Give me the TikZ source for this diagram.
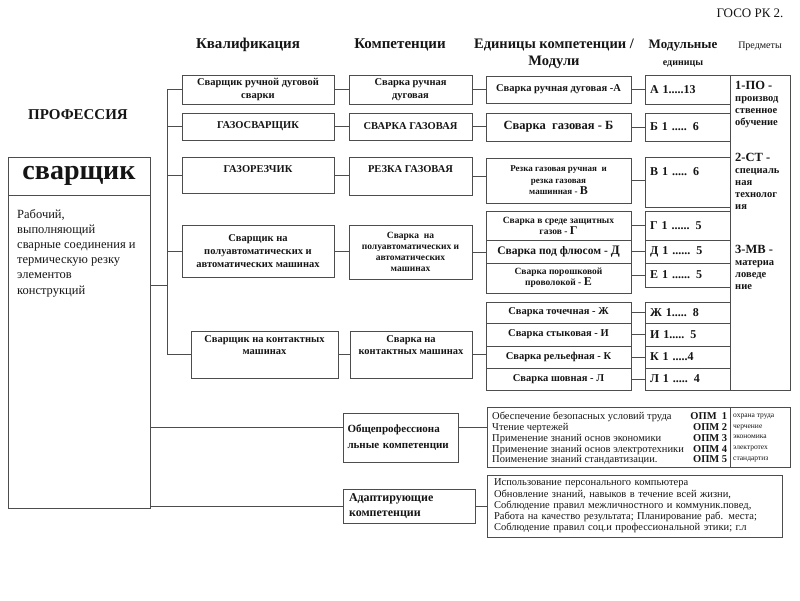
\documentclass[tikz,border=0pt]{standalone}
\usepackage{fontspec}
\setmainfont{Liberation Serif}
\usepackage{xcolor}
\usepackage{tikz}
\usetikzlibrary{positioning,calc}
\definecolor{ink}{HTML}{151515}
\definecolor{rulegrey}{HTML}{4D4D4D}
\newcommand{\fsz}[2]{\fontsize{#1pt}{#2pt}\selectfont}
\tikzset{
  box/.style 2 args={rectangle, draw=rulegrey, line width=0.8pt, align=center,
              inner sep=2pt, text=ink, minimum width=#1pt, minimum height=#2pt,
              font=\bfseries\fsz{10.5}{12.5}},
  unitbox/.style={box={85}{#1}, text width=75pt, align=left, inner xsep=5pt,
              font=\bfseries\fsz{12}{14}},
  hdr/.style={font=\bfseries\fsz{15}{17}, text=ink, align=center, inner sep=0pt},
  note/.style={font=\fsz{12.5}{15.2}, text=ink, align=left, inner sep=0pt},
  subj/.style={font=\bfseries\fsz{10.5}{12}, text=ink, align=left, inner sep=0pt},
  wire/.style={draw=rulegrey, line width=0.8pt},
}

\begin{document}
\begin{tikzpicture}[x=1pt,y=-1pt]
  \useasboundingbox (0,0) rectangle (800,600);

  % page mark and column heads
  \node[font=\fsz{13}{15}, text=ink] (goso) at (750,13) {ГОСО РК 2.};
  \node[hdr] (hqual) at (248,45) {Квалификация};
  \node[hdr] (hcomp) at (400,45) {Компетенции};
  \node[hdr, font=\bfseries\fsz{14.5}{17}] (hunit) at (554,53.5) {Единицы компетенции /\\Модули};
  \node[hdr, font=\bfseries\fsz{13}{17}] (hmod) at (683,54) {Модульные\\{\fsz{10}{10}единицы}};
  \node[font=\fsz{10}{12}, text=ink] (hsubj) at (760,46) {Предметы};

  % profession
  \node[hdr] (hprof) at (78,115) {ПРОФЕССИЯ};
  \node[box={142}{38}, font=\bfseries\fsz{28}{30}] (pname) at (79,176) {сварщик};
  \node[box={142}{313}] (pdesc) at (79,351.5) {};
  \node[note, anchor=north west] (pnote) at (17,209)
    {Рабочий,\\выполняющий\\сварные соединения и\\термическую резку\\элементов\\конструкций};

  % qualifications
  \node[box={152}{29}] (q1) at (258,89.5) {Сварщик ручной дуговой\\сварки};
  \node[box={152}{27}] (q2) at (258,126.5) {ГАЗОСВАРЩИК};
  \node[box={152}{36}, text height=13pt, text depth=19pt] (q3) at (258,175) {ГАЗОРЕЗЧИК};
  \node[box={152}{52}, font=\bfseries\fsz{10.5}{13}] (q4) at (258,251)
    {Сварщик на\\полуавтоматических и\\автоматических машинах};
  \node[box={147}{47}] (q5) at (264.5,354.5) {Сварщик на контактных\\машинах\\[6pt]};

  % competences
  \node[box={123}{29}] (c1) at (410.5,89.5) {Сварка ручная\\дуговая};
  \node[box={123}{27}] (c2) at (410.5,126.5) {СВАРКА ГАЗОВАЯ};
  \node[box={123}{38}, text height=13pt, text depth=21pt] (c3) at (410.5,176) {РЕЗКА ГАЗОВАЯ};
  \node[box={123}{54}, font=\bfseries\fsz{9.5}{11}] (c4) at (410.5,252)
    {Сварка\ \ на\\полуавтоматических и\\автоматических\\машинах};
  \node[box={122}{47}] (c5) at (411,354.5) {Сварка на\\контактных машинах\\[6pt]};

  % units of competence / modules
  \node[box={145}{27}] (m1) at (558.5,89.5) {Сварка ручная дуговая -А};
  \node[box={145}{28}, font=\bfseries\fsz{12.5}{14}] (m2) at (558.5,127) {Сварка\ \ газовая - Б};
  \node[box={145}{45}, font=\bfseries\fsz{9}{11.5}] (m3) at (558.5,180.5)
    {Резка газовая ручная\ \ и\\резка газовая\\машинная - {\fsz{12}{12}В}};
  \node[box={145}{29}, font=\bfseries\fsz{9.5}{11}] (m4a) at (558.5,225.5)
    {Сварка в среде защитных\\газов - {\fsz{12}{12}Г}};
  \node[box={145}{23}, font=\bfseries\fsz{11.5}{13}] (m4b) at (558.5,251.5)
    {Сварка под флюсом - {\fsz{13}{13}Д}};
  \node[box={145}{30}, font=\bfseries\fsz{9.5}{11}] (m4c) at (558.5,278)
    {Сварка порошковой\\проволокой - {\fsz{12}{12}Е}};
  \node[box={145}{21}] (m5a) at (558.5,312.5) {Сварка точечная - Ж};
  \node[box={145}{23}] (m5b) at (558.5,334.5) {Сварка стыковая - И};
  \node[box={145}{22}] (m5c) at (558.5,357) {Сварка рельефная - К};
  \node[box={145}{22}] (m5d) at (558.5,379) {Сварка шовная - Л};

  % modular units
  \node[unitbox=29] (u1) at (687.5,89.5) {А 1.....13};
  \node[unitbox=28] (u2) at (687.5,127) {Б 1 ..... 6};
  \node[unitbox=50, text height=16pt, text depth=30pt] (u3) at (687.5,182) {В 1 ..... 6};
  \node[unitbox=29] (u4a) at (687.5,225.5) {Г 1 ...... 5};
  \node[unitbox=23] (u4b) at (687.5,251.5) {Д 1 ...... 5};
  \node[unitbox=24] (u4c) at (687.5,275) {Е 1 ...... 5};
  \node[unitbox=21] (u5a) at (687.5,312.5) {Ж 1..... 8};
  \node[unitbox=23] (u5b) at (687.5,334.5) {И 1..... 5};
  \node[unitbox=22] (u5c) at (687.5,357) {К 1 .....4};
  \node[unitbox=22] (u5d) at (687.5,379) {Л 1 ..... 4};

  % subjects
  \node[box={60}{315}] (subjbox) at (760,232.5) {};
  \node[subj, anchor=north west] (subj1) at (735,81)
    {{\fsz{12.5}{13}1-ПО -}\\производ\\ственное\\обучение};
  \node[subj, anchor=north west] (subj2) at (735,153)
    {{\fsz{12.5}{13}2-СТ -}\\специаль\\ная\\технолог\\ия};
  \node[subj, anchor=north west] (subj3) at (735,245)
    {{\fsz{12.5}{13}3-МВ -}\\материа\\ловеде\\ние};

  % general professional competences
  \node[box={115}{49}, text width=106pt, inner xsep=4.5pt, align=left,
        font=\bfseries\fsz{11}{16}] (opmhead) at (400.5,437.5)
    {Общепрофессиона\\льные компетенции};
  \node[box={303}{60}] (opm) at (638.5,437) {};
  \node[anchor=north west, inner sep=0pt, font=\fsz{10.5}{10.8}, text=ink] (opmtext) at (492,412)
    {\begin{tabular*}{235pt}{@{}l@{\extracolsep{\fill}}r@{}}
     Обеспечение безопасных условий труда & \textbf{ОПМ\ \ 1}\\
     Чтение чертежей & \textbf{ОПМ 2}\\
     Применение знаний основ экономики & \textbf{ОПМ 3}\\
     Применение знаний основ электротехники & \textbf{ОПМ 4}\\
     Поименение знаний стандавтизации. & \textbf{ОПМ 5}
     \end{tabular*}};
  \node[anchor=north west, inner sep=0pt, font=\fsz{7.5}{10.8}, text=ink, align=left] (opmsubj) at (733,413.5)
    {охрана труда\\черчение\\экономика\\электротех\\стандартиз};
  \coordinate (odiv) at (730,0);
  \draw[wire] (opm.north -| odiv) -- (opm.south -| odiv);

  % adaptive competences
  \node[box={132}{34}, text width=120pt, inner xsep=6pt, align=left,
        font=\bfseries\fsz{12}{15.5}] (adhead) at (409,506)
    {Адаптирующие\\компетенции};
  \node[box={295}{62}, text width=281pt, inner xsep=7pt, align=left,
        font=\fsz{10.5}{11.2}] (adlist) at (634.5,506)
    {Использование персонального компьютера\\
     Обновление знаний, навыков в течение всей жизни,\\
     Соблюдение правил межличностного и коммуник.повед,\\
     Работа на качество результата; Планирование раб. места;\\
     Соблюдение правил соц.и профессиональной этики; г.л};

  % connectors
  \coordinate (spine) at (167,0);
  \draw[wire] (q1.west) -- (q1.west -| spine) |- (q5.west);
  \foreach \q in {q2,q3,q4}
    \draw[wire] (\q.west) -- (\q.west -| spine);
  \coordinate (ptap) at ($(pdesc.north east)!.29!(pdesc.south east)$);
  \draw[wire] (ptap) -- (ptap -| spine);

  \foreach \a/\b in {q1/c1,q2/c2,q3/c3,q4/c4,q5/c5,c1/m1,c2/m2,c3/m3,c4/m4b,c5/m5c,
                     m1/u1,m2/u2,m3/u3,m4a/u4a,m4b/u4b,m5a/u5a,m5b/u5b,m5c/u5c,m5d/u5d}
    \draw[wire] (\a.east) -- (\a.east -| \b.west);
  \draw[wire] (u4c.west -| m4c.east) -- (u4c.west);

  \coordinate (otap) at ($(opmhead.north west)!.29!(opmhead.south west)$);
  \coordinate (otapr) at ($(opmhead.north east)!.29!(opmhead.south east)$);
  \draw[wire] (otap -| pdesc.east) -- (otap);
  \draw[wire] (otapr) -- (otapr -| opm.west);
  \draw[wire] (adhead.west -| pdesc.east) -- (adhead.west);
  \draw[wire] (adhead.east) -- (adhead.east -| adlist.west);
\end{tikzpicture}
\end{document}
